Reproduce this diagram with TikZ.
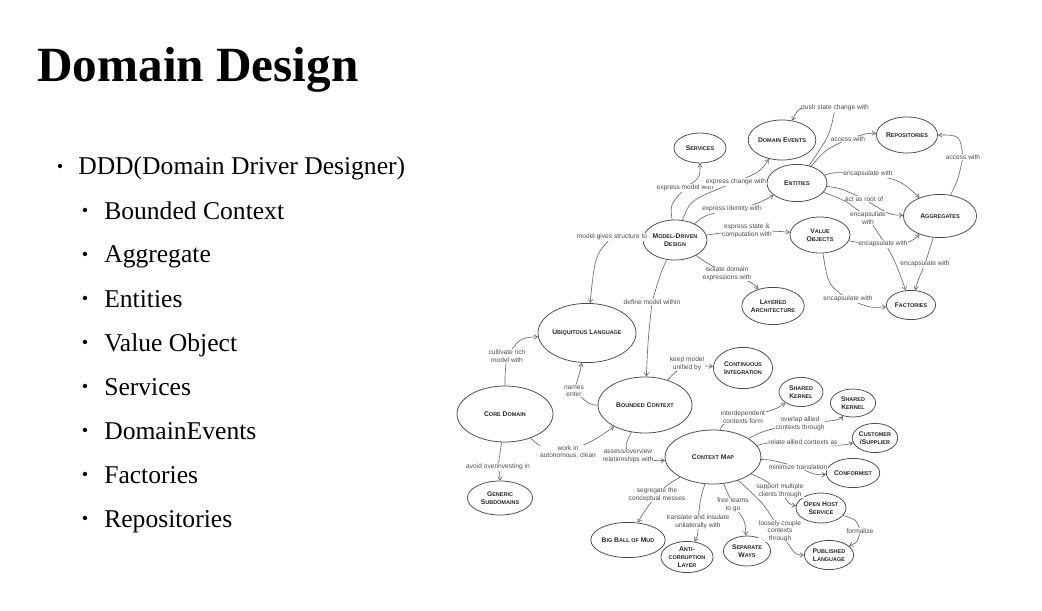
\documentclass[tikz,border=0pt]{standalone}
\usepackage{fontspec}
\setmainfont{Liberation Serif}
\newfontfamily\diagfont{Liberation Sans}
\usetikzlibrary{shapes.geometric, arrows.meta, positioning}

% fake small caps for the concept names
\newcommand\sm[1]{{\fontsize{3.9}{4.6}\selectfont\MakeUppercase{#1}}}

\begin{document}
\begin{tikzpicture}[
    x=0.025cm, y=-0.025cm,
    concept/.style={ellipse, draw=black!70, line width=0.55pt, inner sep=0pt, font=\diagfont\bfseries\fontsize{4.8}{5.6}\selectfont, align=center, text=black!85},
    arrow/.style={-{Straight Barb[length=2.5pt,width=3.2pt]}, draw=black!60, line width=0.45pt},
    lbl/.style={font=\diagfont\fontsize{4.7}{5.3}\selectfont, text=black!70, fill=white, inner sep=0.4pt, align=center},
    heading/.style={font=\bfseries\fontsize{35}{40}\selectfont, anchor=base west, inner sep=0pt},
    item/.style={font=\fontsize{18.2}{22}\selectfont, anchor=base west, inner sep=0pt},
    dot/.style={font=\fontsize{13}{15}\selectfont, anchor=center, inner sep=0pt}
]
\useasboundingbox (0,0) rectangle (1042,611);
\fill[white] (0,0) rectangle (1042,611);

% Title and bullet list
\node[heading] (title) at (37,82) {Domain Design};
\node[dot] (d0) at (60,168) {\textbullet};
\node[item] (i0) at (78,175) {DDD(Domain Driver Designer)};
\foreach \txt [count=\k] in {Bounded Context, Aggregate, Entities, Value Object, Services, DomainEvents, Factories, Repositories} {
    \node[dot] (d\k) at (85,{168+44*\k}) {\textbullet};
    \node[item] (i\k) at (104,{175+44*\k}) {\txt};
}

% Model side
\node[concept, minimum width=1.30cm, minimum height=0.75cm] (svc) at (700,148) {S\sm{ervices}};
\node[concept, minimum width=1.55cm, minimum height=1.00cm] (dev) at (782,140) {D\sm{omain} E\sm{vents}};
\node[concept, minimum width=1.50cm, minimum height=0.93cm] (ent) at (797,183) {E\sm{ntities}};
\node[concept, minimum width=1.60cm, minimum height=1.00cm] (mdd) at (675,240) {M\sm{odel}-D\sm{riven}\\D\sm{esign}};
\node[concept, minimum width=1.50cm, minimum height=0.90cm] (vo) at (820,235) {V\sm{alue}\\O\sm{bjects}};
\node[concept, minimum width=1.53cm, minimum height=0.90cm] (rep) at (907,135) {R\sm{epositories}};
\node[concept, minimum width=1.83cm, minimum height=1.08cm] (agg) at (940,216) {A\sm{ggregates}};
\node[concept, minimum width=1.23cm, minimum height=0.73cm] (fac) at (911,305) {F\sm{actories}};
\node[concept, minimum width=1.50cm, minimum height=0.93cm] (lay) at (773,306) {L\sm{ayered}\\A\sm{rchitecture}};

% Strategic side
\node[concept, minimum width=2.40cm, minimum height=1.48cm] (ul) at (587,333) {U\sm{biquitous} L\sm{anguage}};
\node[concept, minimum width=2.40cm, minimum height=1.40cm] (core) at (505,414) {C\sm{ore} D\sm{omain}};
\node[concept, minimum width=2.35cm, minimum height=1.40cm] (bc) at (645,405) {B\sm{ounded} C\sm{ontext}};
\node[concept, minimum width=1.48cm, minimum height=1.03cm] (ci) at (743,368) {C\sm{ontinuous}\\I\sm{ntegration}};
\node[concept, minimum width=1.63cm, minimum height=0.85cm] (gs) at (500,498) {G\sm{eneric}\\S\sm{ubdomains}};
\node[concept, minimum width=2.40cm, minimum height=1.35cm] (cm) at (713,457) {C\sm{ontext} M\sm{ap}};
\node[concept, minimum width=1.10cm, minimum height=0.73cm] (sk1) at (801,392) {S\sm{hared}\\K\sm{ernel}};
\node[concept, minimum width=1.13cm, minimum height=0.70cm] (sk2) at (853,403) {S\sm{hared}\\K\sm{ernel}};
\node[concept, minimum width=1.10cm, minimum height=0.73cm] (cs) at (875,438) {C\sm{ustomer}\\/S\sm{upplier}};
\node[concept, minimum width=1.28cm, minimum height=0.73cm] (conf) at (853,473) {C\sm{onformist}};
\node[concept, minimum width=1.25cm, minimum height=0.75cm] (ohs) at (821,508) {O\sm{pen} H\sm{ost}\\S\sm{ervice}};
\node[concept, minimum width=1.23cm, minimum height=0.73cm] (pl) at (829,555) {P\sm{ublished}\\L\sm{anguage}};
\node[concept, minimum width=1.68cm, minimum height=0.88cm] (bbm) at (628,540) {B\sm{ig} B\sm{all of} M\sm{ud}};
\node[concept, minimum width=1.25cm, minimum height=0.78cm] (acl) at (687,557) {A\sm{nti}-\\\sm{corruption}\\L\sm{ayer}};
\node[concept, minimum width=1.18cm, minimum height=0.75cm] (sw) at (747,551) {S\sm{eparate}\\W\sm{ays}};

% Model-driven design links
\draw[arrow] (mdd) .. controls (670,205) .. (685,188) node[lbl]{express model with} .. controls (700,178) .. (svc);
\draw[arrow] (mdd) .. controls (690,200) .. (736,182) node[lbl]{express change with} .. controls (760,172) .. (dev);
\draw[arrow] (mdd) .. controls (705,215) .. (732,209) node[lbl]{express identity with} .. controls (755,205) .. (ent);
\draw[arrow] (mdd) .. controls (720,233) .. (747,231) node[lbl]{express state \&\\computation with} .. controls (775,231) .. (vo);
\draw[arrow] (mdd) .. controls (705,262) .. (727,274) node[lbl]{isolate domain\\expressions with} .. controls (752,282) .. (lay);
\draw[arrow] (mdd) .. controls (635,240) .. (612,237) node[lbl]{model gives structure to} .. controls (595,255) .. (ul);
\draw[arrow] (mdd) .. controls (660,275) .. (652,302) node[lbl]{define model within} .. controls (648,340) .. (bc);

% Building blocks
\draw[arrow] (ent) .. controls (830,135) .. (835,108) node[lbl]{push state change with} .. controls (800,105) .. (dev);
\draw[arrow] (ent) .. controls (825,150) .. (848,139) node[lbl]{access with} .. controls (868,133) .. (rep);
\draw[arrow] (ent) .. controls (835,172) .. (868,174) node[lbl]{encapsulate with} .. controls (900,180) .. (agg);
\draw[arrow] (ent) .. controls (840,188) .. (864,199) node[lbl]{act as root of} .. controls (890,215) .. (agg);
\draw[arrow] (ent) .. controls (845,200) .. (868,218) node[lbl]{encapsulate\\with} .. controls (893,255) .. (fac);
\draw[arrow] (vo) .. controls (860,243) .. (883,244) node[lbl]{encapsulate with} .. controls (910,243) .. (agg);
\draw[arrow] (agg) .. controls (930,248) .. (925,264) node[lbl]{encapsulate with} .. controls (918,280) .. (fac);
\draw[arrow] (vo) .. controls (828,285) .. (848,299) node[lbl]{encapsulate with} .. controls (870,308) .. (fac);
\draw[arrow] (agg) .. controls (958,180) .. (963,157) node[lbl]{access with} .. controls (960,135) .. (rep);

% Core domain and bounded context
\draw[arrow] (core) .. controls (505,372) .. (507,356) node[lbl]{cultivate rich\\model with} .. controls (520,338) .. (ul);
\draw[arrow] (bc) .. controls (590,405) .. (574,391) node[lbl]{names\\enter} .. controls (580,372) .. (ul);
\draw[arrow] (core) .. controls (540,447) .. (568,452) node[lbl]{work in\\autonomous, clean} .. controls (595,440) .. (bc);
\draw[arrow] (core) .. controls (500,455) .. (498,467) node[lbl]{avoid overinvesting in} .. controls (500,475) .. (gs);
\draw[arrow] (bc) .. controls (675,372) .. (687,364) node[lbl]{keep model\\unified by} .. controls (705,366) .. (ci);
\draw[arrow] (bc) .. controls (625,445) .. (628,456) node[lbl]{assess/overview\\relationships with} .. controls (655,461) .. (cm);

% Context map relationships
\draw[arrow] (cm) .. controls (722,424) .. (743,417) node[lbl]{interdependent\\contexts form} .. controls (775,410) .. (sk1);
\draw[arrow] (cm) .. controls (765,430) .. (800,424) node[lbl]{overlap allied\\contexts through} .. controls (840,420) .. (sk2);
\draw[arrow] (cm) .. controls (770,442) .. (803,442) node[lbl]{relate allied contexts as} .. controls (840,446) .. (cs);
\draw[arrow] (cm) .. controls (772,460) .. (798,467) node[lbl]{minimize translation} .. controls (815,475) .. (conf);
\draw[arrow] (cm) .. controls (765,480) .. (780,491) node[lbl]{support multiple\\clients through} .. controls (790,505) .. (ohs);
\draw[arrow] (cm) .. controls (765,505) .. (780,531) node[lbl]{loosely couple\\contexts\\through} .. controls (795,555) .. (pl);
\draw[arrow] (ohs) .. controls (857,520) .. (860,531) node[lbl]{formalize} .. controls (858,542) .. (pl);
\draw[arrow] (cm) .. controls (667,485) .. (657,495) node[lbl]{segregate the\\conceptual messes} .. controls (645,510) .. (bbm);
\draw[arrow] (cm) .. controls (700,500) .. (698,522) node[lbl]{translate and insulate\\unilaterally with} .. controls (698,535) .. (acl);
\draw[arrow] (cm) .. controls (728,495) .. (733,505) node[lbl]{free teams\\to go} .. controls (745,520) .. (sw);

\end{tikzpicture}
\end{document}
